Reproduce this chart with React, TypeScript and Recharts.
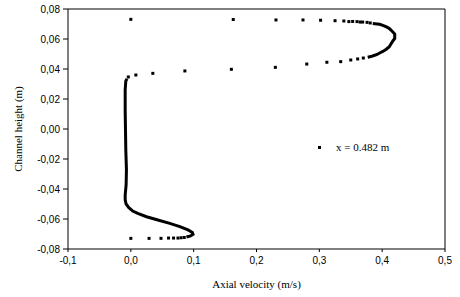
import { ScatterChart, Scatter, XAxis, YAxis, ReferenceLine, Legend } from "recharts";

// sparse points of the profile (velocity m/s, height m)
const bottomRowX = [0.0, 0.029, 0.048, 0.06, 0.068, 0.075, 0.08, 0.085];
const bottomRowY = [-0.0729, -0.0729, -0.0729, -0.0727, -0.0727, -0.0727, -0.0725, -0.0723];

const lowerBranchX = [-0.004, 0.008, 0.035, 0.086, 0.16, 0.23, 0.28, 0.312, 0.334, 0.35, 0.361, 0.37];
const lowerBranchY = [0.0347, 0.036, 0.0371, 0.0387, 0.0398, 0.0411, 0.0433, 0.0445, 0.0449, 0.046, 0.0467, 0.0473];

const topRowX = [0.381, 0.376, 0.369, 0.365, 0.36, 0.353, 0.347, 0.339, 0.325, 0.302, 0.274, 0.231, 0.163, 0.0];
const topRowY = [0.0707, 0.0711, 0.0713, 0.0713, 0.0716, 0.0717, 0.0716, 0.072, 0.0722, 0.0725, 0.0727, 0.0727, 0.073, 0.0731];

// dense parts, drawn as a thick run of points
const nearWallX = [
  0.0885, 0.095, 0.099, 0.098, 0.091, 0.078, 0.062, 0.043, 0.025, 0.011, 0.003, -0.0035,
  -0.0075, -0.009, -0.009, -0.0075, -0.007, -0.008, -0.0085, -0.009, -0.009, -0.008, -0.006,
];
const nearWallY = [
  -0.072, -0.0713, -0.0702, -0.069, -0.0673, -0.0651, -0.0629, -0.0607, -0.0585, -0.0563, -0.0547, -0.0523,
  -0.05, -0.0473, -0.044, -0.0373, -0.027, -0.014, -0.0007, 0.0127, 0.026, 0.032, 0.0335,
];

const turnX = [
  0.377, 0.382, 0.387, 0.392, 0.396, 0.401, 0.406, 0.411, 0.414, 0.417, 0.42, 0.42, 0.42,
  0.417, 0.414, 0.411, 0.406, 0.401, 0.396, 0.392, 0.385,
];
const turnY = [
  0.0478, 0.0483, 0.049, 0.0497, 0.0507, 0.0517, 0.053, 0.0547, 0.0567, 0.0587, 0.0603, 0.062, 0.0633,
  0.0647, 0.066, 0.0671, 0.0682, 0.0691, 0.0698, 0.07, 0.0704,
];

const xTicks = [-0.1, 0, 0.1, 0.2, 0.3, 0.4, 0.5];
const yTicks = [-0.08, -0.06, -0.04, -0.02, 0, 0.02, 0.04, 0.06, 0.08];

const pts = (xs: number[], ys: number[]) => xs.map((x, i) => ({ x, y: ys[i] }));
const sparse = [...pts(bottomRowX, bottomRowY), ...pts(lowerBranchX, lowerBranchY), ...pts(topRowX, topRowY)];
const lowerCurve = pts(nearWallX, nearWallY);
const upperTurn = pts(turnX, turnY);

const tickFont = { fontFamily: '"Liberation Sans", Arial, sans-serif', fontSize: 10, fill: "#000" };
const titleFont = { fontFamily: '"Liberation Serif", "Times New Roman", serif', fontSize: 11, fill: "#000" };

const square = (p: any) => <rect x={p.cx - 1.5} y={p.cy - 1.5} width={3} height={3} fill="#000" />;
const nothing = () => <g />;

function LegendBox() {
  return (
    <div style={{ display: "flex", alignItems: "center", ...titleFont, color: "#000", whiteSpace: "nowrap" }}>
      <span style={{ display: "inline-block", width: 3, height: 3, background: "#000", marginRight: 15 }} />
      x = 0.482 m
    </div>
  );
}

export default function App() {
  return (
    <div style={{ position: "absolute", left: 0, top: 0, background: "#fff" }}>
      <ScatterChart width={460} height={297} margin={{ top: 9, right: 15, left: 0, bottom: 0 }}>
        <XAxis
          type="number"
          dataKey="x"
          domain={[-0.1, 0.5]}
          ticks={xTicks}
          tickFormatter={(v) => v.toFixed(1).replace(".", ",")}
          tick={tickFont}
          tickSize={3}
          tickMargin={5}
          height={48}
          stroke="#000"
          allowDataOverflow
          label={{ value: "Axial velocity (m/s)", position: "insideBottom", offset: 9, style: titleFont }}
        />
        <YAxis
          type="number"
          dataKey="y"
          domain={[-0.08, 0.08]}
          ticks={yTicks}
          tickFormatter={(v) => v.toFixed(2).replace(".", ",")}
          tick={tickFont}
          tickSize={5}
          tickMargin={3}
          width={68}
          stroke="#000"
          allowDataOverflow
          label={{
            value: "Channel height (m)",
            angle: -90,
            position: "insideLeft",
            offset: 18,
            style: { ...titleFont, textAnchor: "middle" },
          }}
        />
        <ReferenceLine y={0.08} stroke="#000" />
        <ReferenceLine x={0.5} stroke="#000" />
        <Scatter data={lowerCurve} line={{ stroke: "#000", strokeWidth: 3 }} shape={nothing} legendType="none" isAnimationActive={false} />
        <Scatter data={upperTurn} line={{ stroke: "#000", strokeWidth: 3 }} shape={nothing} legendType="none" isAnimationActive={false} />
        <Scatter name="x = 0.482 m" data={sparse} shape={square} isAnimationActive={false} />
        <Legend
          layout="vertical"
          align="center"
          verticalAlign="middle"
          content={() => <LegendBox />}
          wrapperStyle={{ left: 318, top: 141, width: "auto" }}
        />
      </ScatterChart>
    </div>
  );
}
